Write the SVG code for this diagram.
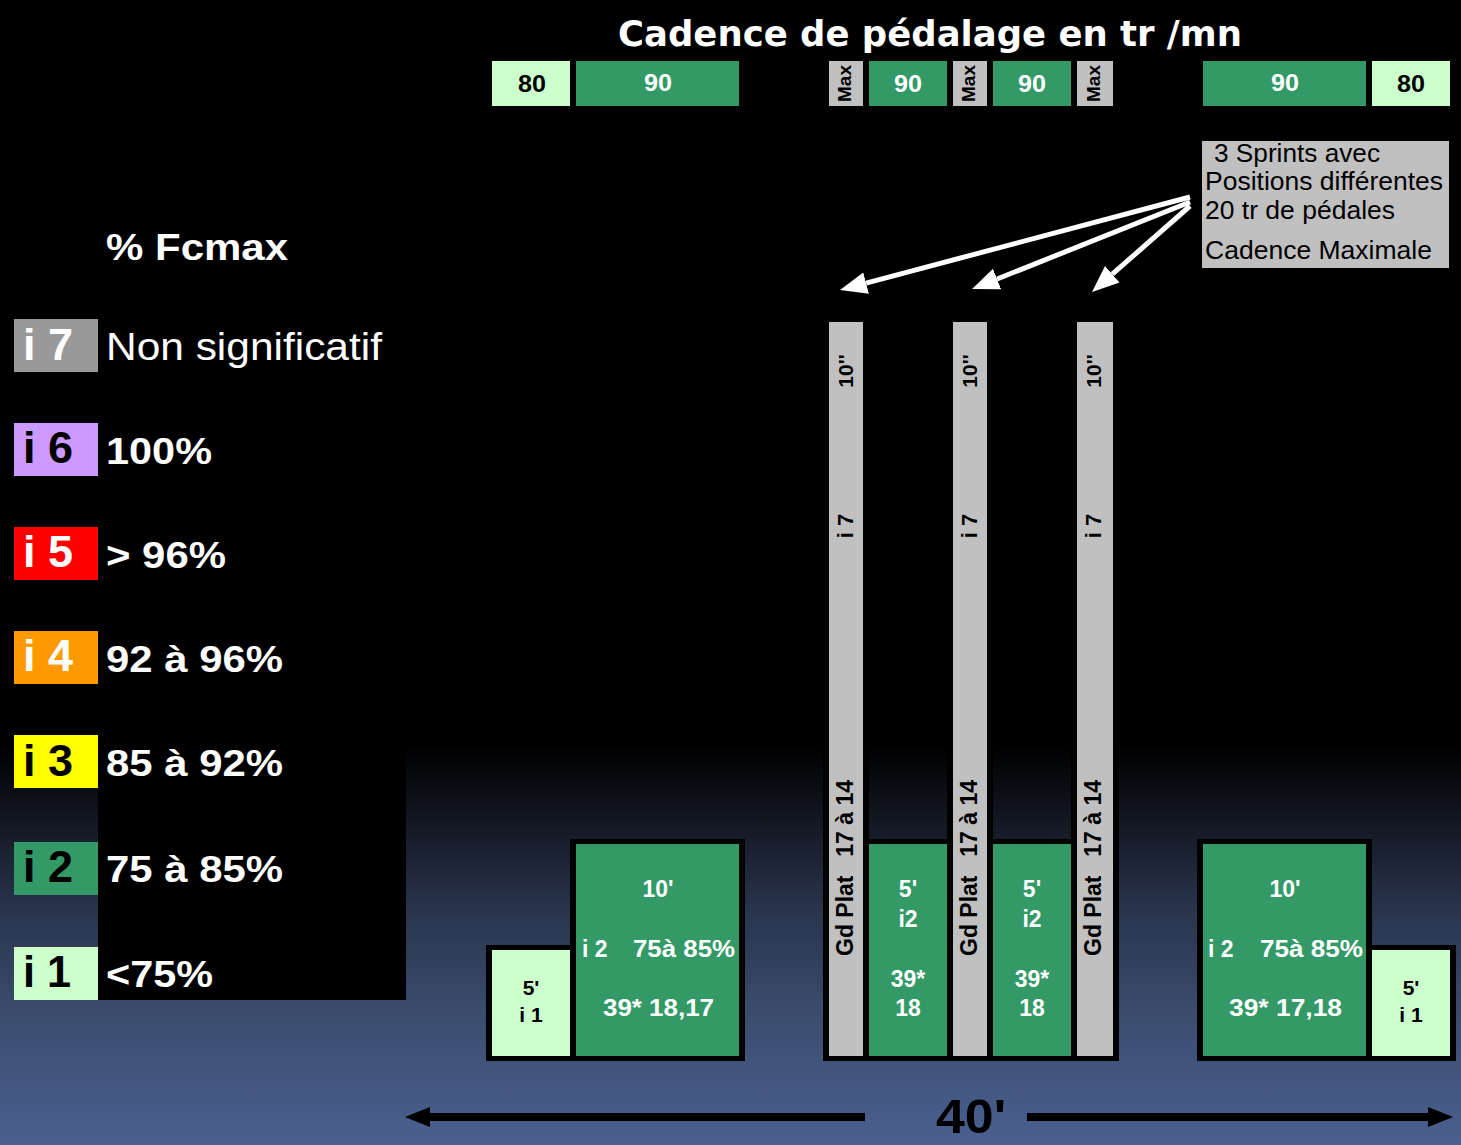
<svg xmlns="http://www.w3.org/2000/svg" width="1461" height="1145" viewBox="0 0 1461 1145">
<defs>
<linearGradient id="bg" gradientUnits="userSpaceOnUse" x1="0" y1="0" x2="0" y2="1145">
<stop offset="0" stop-color="#000000"/>
<stop offset="0.65" stop-color="#000000"/>
<stop offset="0.70" stop-color="#0e1119"/>
<stop offset="0.79" stop-color="#28324a"/>
<stop offset="0.88" stop-color="#3a4b6c"/>
<stop offset="1" stop-color="#4a6090"/>
</linearGradient>
<marker id="wh" markerUnits="userSpaceOnUse" markerWidth="28" markerHeight="24" refX="0" refY="12" orient="auto">
<path d="M0,1 L27,12 L0,23 z" fill="#ffffff"/>
</marker>
<marker id="kh" markerUnits="userSpaceOnUse" markerWidth="26" markerHeight="22" refX="0" refY="11" orient="auto">
<path d="M0,1 L25,11 L0,21 z" fill="#000000"/>
</marker>
</defs>
<style>
.b{font-family:"Liberation Sans",Arial,sans-serif;font-weight:bold}
.r{font-family:"Liberation Sans",Arial,sans-serif;font-weight:normal}
.w{fill:#ffffff}
.k{fill:#000000}
.m{text-anchor:middle}
.e{text-anchor:end}
.g{fill:#339966}
.lg{fill:#ccffcc}
.gr{fill:#c0c0c0}
.f22{font-size:22px}
.f23{font-size:23px}
.f21{font-size:21px}
.t{font-size:23px}
</style>
<rect x="0" y="0" width="1461" height="1145" fill="url(#bg)"/>

<text class="b w" x="618" y="46" style="font-family:'DejaVu Sans',Verdana,sans-serif;font-size:35px" textLength="624" lengthAdjust="spacingAndGlyphs">Cadence de pédalage en tr /mn</text>

<g id="cadence-bar">
<rect class="lg" x="492" y="61" width="78" height="45"/>
<text class="b k m t" x="532" y="92" textLength="28" lengthAdjust="spacingAndGlyphs">80</text>
<rect class="g" x="576" y="61" width="163" height="45"/>
<text class="b w m t" x="658" y="91" textLength="28" lengthAdjust="spacingAndGlyphs">90</text>
<rect class="gr" x="829" y="61" width="34" height="45"/>
<text class="b k m" style="font-size:19px" transform="translate(851,83.5) rotate(-90)">Max</text>
<rect class="g" x="869" y="61" width="78" height="45"/>
<text class="b w m t" x="908" y="92" textLength="28" lengthAdjust="spacingAndGlyphs">90</text>
<rect class="gr" x="953" y="61" width="34" height="45"/>
<text class="b k m" style="font-size:19px" transform="translate(975,83.5) rotate(-90)">Max</text>
<rect class="g" x="993" y="61" width="78" height="45"/>
<text class="b w m t" x="1032" y="92" textLength="28" lengthAdjust="spacingAndGlyphs">90</text>
<rect class="gr" x="1077" y="61" width="36" height="45"/>
<text class="b k m" style="font-size:19px" transform="translate(1100,83.5) rotate(-90)">Max</text>
<rect class="g" x="1203" y="61" width="163" height="45"/>
<text class="b w m t" x="1285" y="91" textLength="28" lengthAdjust="spacingAndGlyphs">90</text>
<rect class="lg" x="1372" y="61" width="78" height="45"/>
<text class="b k m t" x="1411" y="92" textLength="28" lengthAdjust="spacingAndGlyphs">80</text>
</g>

<g id="sprint-note">
<rect class="gr" x="1202" y="141" width="247" height="127"/>
<text class="r k" style="font-size:25px" x="1214" y="162" textLength="166" lengthAdjust="spacingAndGlyphs">3 Sprints avec</text>
<text class="r k" style="font-size:25px" x="1205" y="190" textLength="238" lengthAdjust="spacingAndGlyphs">Positions différentes</text>
<text class="r k" style="font-size:25px" x="1205" y="219" textLength="190" lengthAdjust="spacingAndGlyphs">20 tr de pédales</text>
<text class="r k" style="font-size:25px" x="1205" y="259" textLength="227" lengthAdjust="spacingAndGlyphs">Cadence Maximale</text>
</g>

<g id="legend">
<rect x="98" y="0" width="308" height="1000" fill="#000000"/>
<text class="b w" style="font-size:36px" x="106" y="260" textLength="182" lengthAdjust="spacingAndGlyphs">% Fcmax</text>
<g id="legend-i7">
<rect x="14" y="319" width="84" height="53" fill="#999999"/>
<text class="b w" style="font-size:44px" x="23" y="360" textLength="50" lengthAdjust="spacingAndGlyphs">i 7</text>
<text class="r w" style="font-size:38px" x="106" y="360" textLength="276" lengthAdjust="spacingAndGlyphs">Non significatif</text>
</g>
<g id="legend-i6">
<rect x="14" y="423" width="84" height="53" fill="#cc99ff"/>
<text class="b k" style="font-size:44px" x="23" y="463" textLength="50" lengthAdjust="spacingAndGlyphs">i 6</text>
<text class="b w" style="font-size:36px" x="106" y="464" textLength="106" lengthAdjust="spacingAndGlyphs">100%</text>
</g>
<g id="legend-i5">
<rect x="14" y="527" width="84" height="53" fill="#ff0000"/>
<text class="b w" style="font-size:44px" x="23" y="567" textLength="50" lengthAdjust="spacingAndGlyphs">i 5</text>
<text class="b w" style="font-size:36px" x="106" y="568" textLength="120" lengthAdjust="spacingAndGlyphs">&gt; 96%</text>
</g>
<g id="legend-i4">
<rect x="14" y="631" width="84" height="53" fill="#ff9900"/>
<text class="b w" style="font-size:44px" x="23" y="671" textLength="50" lengthAdjust="spacingAndGlyphs">i 4</text>
<text class="b w" style="font-size:36px" x="106" y="672" textLength="177" lengthAdjust="spacingAndGlyphs">92 à 96%</text>
</g>
<g id="legend-i3">
<rect x="14" y="735" width="84" height="53" fill="#ffff00"/>
<text class="b k" style="font-size:44px" x="23" y="776" textLength="50" lengthAdjust="spacingAndGlyphs">i 3</text>
<text class="b w" style="font-size:36px" x="106" y="776" textLength="177" lengthAdjust="spacingAndGlyphs">85 à 92%</text>
</g>
<g id="legend-i2">
<rect x="14" y="842" width="84" height="53" fill="#339966"/>
<text class="b k" style="font-size:44px" x="23" y="882" textLength="50" lengthAdjust="spacingAndGlyphs">i 2</text>
<text class="b w" style="font-size:36px" x="106" y="882" textLength="177" lengthAdjust="spacingAndGlyphs">75 à 85%</text>
</g>
<g id="legend-i1">
<rect x="14" y="947" width="84" height="53" fill="#ccffcc"/>
<text class="b k" style="font-size:44px" x="23" y="987" textLength="48" lengthAdjust="spacingAndGlyphs">i 1</text>
<text class="b w" style="font-size:36px" x="106" y="987" textLength="107" lengthAdjust="spacingAndGlyphs">&lt;75%</text>
</g>
</g>

<g id="warmup-i1">
<rect x="486" y="945" width="90" height="116" fill="#000000"/>
<rect class="lg" x="492" y="950" width="78" height="106"/>
<text class="b k m f21" x="531" y="995">5'</text>
<text class="b k m f21" x="531" y="1022">i 1</text>
</g>
<g id="warmup-i2">
<rect x="570" y="839" width="175" height="222" fill="#000000"/>
<rect class="g" x="576" y="844" width="163" height="212"/>
<text class="b w m f23" x="658" y="897">10'</text>
<text class="b w f23" x="582" y="957">i 2</text>
<text class="b w f23" x="633" y="957" textLength="102" lengthAdjust="spacingAndGlyphs">75à 85%</text>
<text class="b w m f23" x="658.5" y="1016" textLength="111" lengthAdjust="spacingAndGlyphs">39* 18,17</text>
</g>

<g id="sprint-frame">
<rect x="823" y="839" width="296" height="222" fill="#000000"/>
<rect x="823" y="316" width="46" height="745" fill="#000000"/>
<rect x="947" y="316" width="46" height="745" fill="#000000"/>
<rect x="1071" y="316" width="48" height="745" fill="#000000"/>
</g>
<g id="sprint-1">
<rect class="gr" x="829" y="322" width="34" height="734"/>
<text class="b k m f21" transform="translate(852.5,371) rotate(-90)">10''</text>
<text class="b k m f22" transform="translate(852.5,526) rotate(-90)">i 7</text>
<text class="b k f23" transform="translate(852.5,956) rotate(-90)">Gd Plat</text>
<text class="b k e f23" transform="translate(852.5,780) rotate(-90)">17 à 14</text>
</g>
<g id="recovery-1">
<rect class="g" x="869" y="844" width="78" height="212"/>
<text class="b w m f23" x="908" y="897">5'</text>
<text class="b w m f23" x="908" y="927">i2</text>
<text class="b w m f23" x="908" y="987">39*</text>
<text class="b w m f23" x="908" y="1016">18</text>
</g>
<g id="sprint-2">
<rect class="gr" x="953" y="322" width="34" height="734"/>
<text class="b k m f21" transform="translate(976.5,371) rotate(-90)">10''</text>
<text class="b k m f22" transform="translate(976.5,526) rotate(-90)">i 7</text>
<text class="b k f23" transform="translate(976.5,956) rotate(-90)">Gd Plat</text>
<text class="b k e f23" transform="translate(976.5,780) rotate(-90)">17 à 14</text>
</g>
<g id="recovery-2">
<rect class="g" x="993" y="844" width="78" height="212"/>
<text class="b w m f23" x="1032" y="897">5'</text>
<text class="b w m f23" x="1032" y="927">i2</text>
<text class="b w m f23" x="1032" y="987">39*</text>
<text class="b w m f23" x="1032" y="1016">18</text>
</g>
<g id="sprint-3">
<rect class="gr" x="1077" y="322" width="36" height="734"/>
<text class="b k m f21" transform="translate(1101,371) rotate(-90)">10''</text>
<text class="b k m f22" transform="translate(1101,526) rotate(-90)">i 7</text>
<text class="b k f23" transform="translate(1101,956) rotate(-90)">Gd Plat</text>
<text class="b k e f23" transform="translate(1101,780) rotate(-90)">17 à 14</text>
</g>

<g id="cooldown-i2">
<rect x="1197" y="839" width="175" height="222" fill="#000000"/>
<rect class="g" x="1203" y="844" width="163" height="212"/>
<text class="b w m f23" x="1285" y="897">10'</text>
<text class="b w f23" x="1208" y="957">i 2</text>
<text class="b w f23" x="1260" y="957" textLength="103" lengthAdjust="spacingAndGlyphs">75à 85%</text>
<text class="b w m f23" x="1285.5" y="1016" textLength="113" lengthAdjust="spacingAndGlyphs">39* 17,18</text>
</g>
<g id="cooldown-i1">
<rect x="1366" y="945" width="90" height="116" fill="#000000"/>
<rect class="lg" x="1372" y="950" width="78" height="106"/>
<text class="b k m f21" x="1411" y="995">5'</text>
<text class="b k m f21" x="1411" y="1022">i 1</text>
</g>

<g id="connectors">
<line x1="1190" y1="197" x2="866.1" y2="283.1" stroke="#ffffff" stroke-width="5" marker-end="url(#wh)"/>
<line x1="1190" y1="202" x2="997.1" y2="279.0" stroke="#ffffff" stroke-width="5" marker-end="url(#wh)"/>
<line x1="1190" y1="206" x2="1112.3" y2="274.2" stroke="#ffffff" stroke-width="5" marker-end="url(#wh)"/>
<line x1="865" y1="1117" x2="430" y2="1117" stroke="#000000" stroke-width="8" marker-end="url(#kh)"/>
<line x1="1027" y1="1117" x2="1428" y2="1117" stroke="#000000" stroke-width="8" marker-end="url(#kh)"/>
</g>
<text class="b k" style="font-size:48px" x="936" y="1133" textLength="70" lengthAdjust="spacingAndGlyphs">40'</text>
</svg>
